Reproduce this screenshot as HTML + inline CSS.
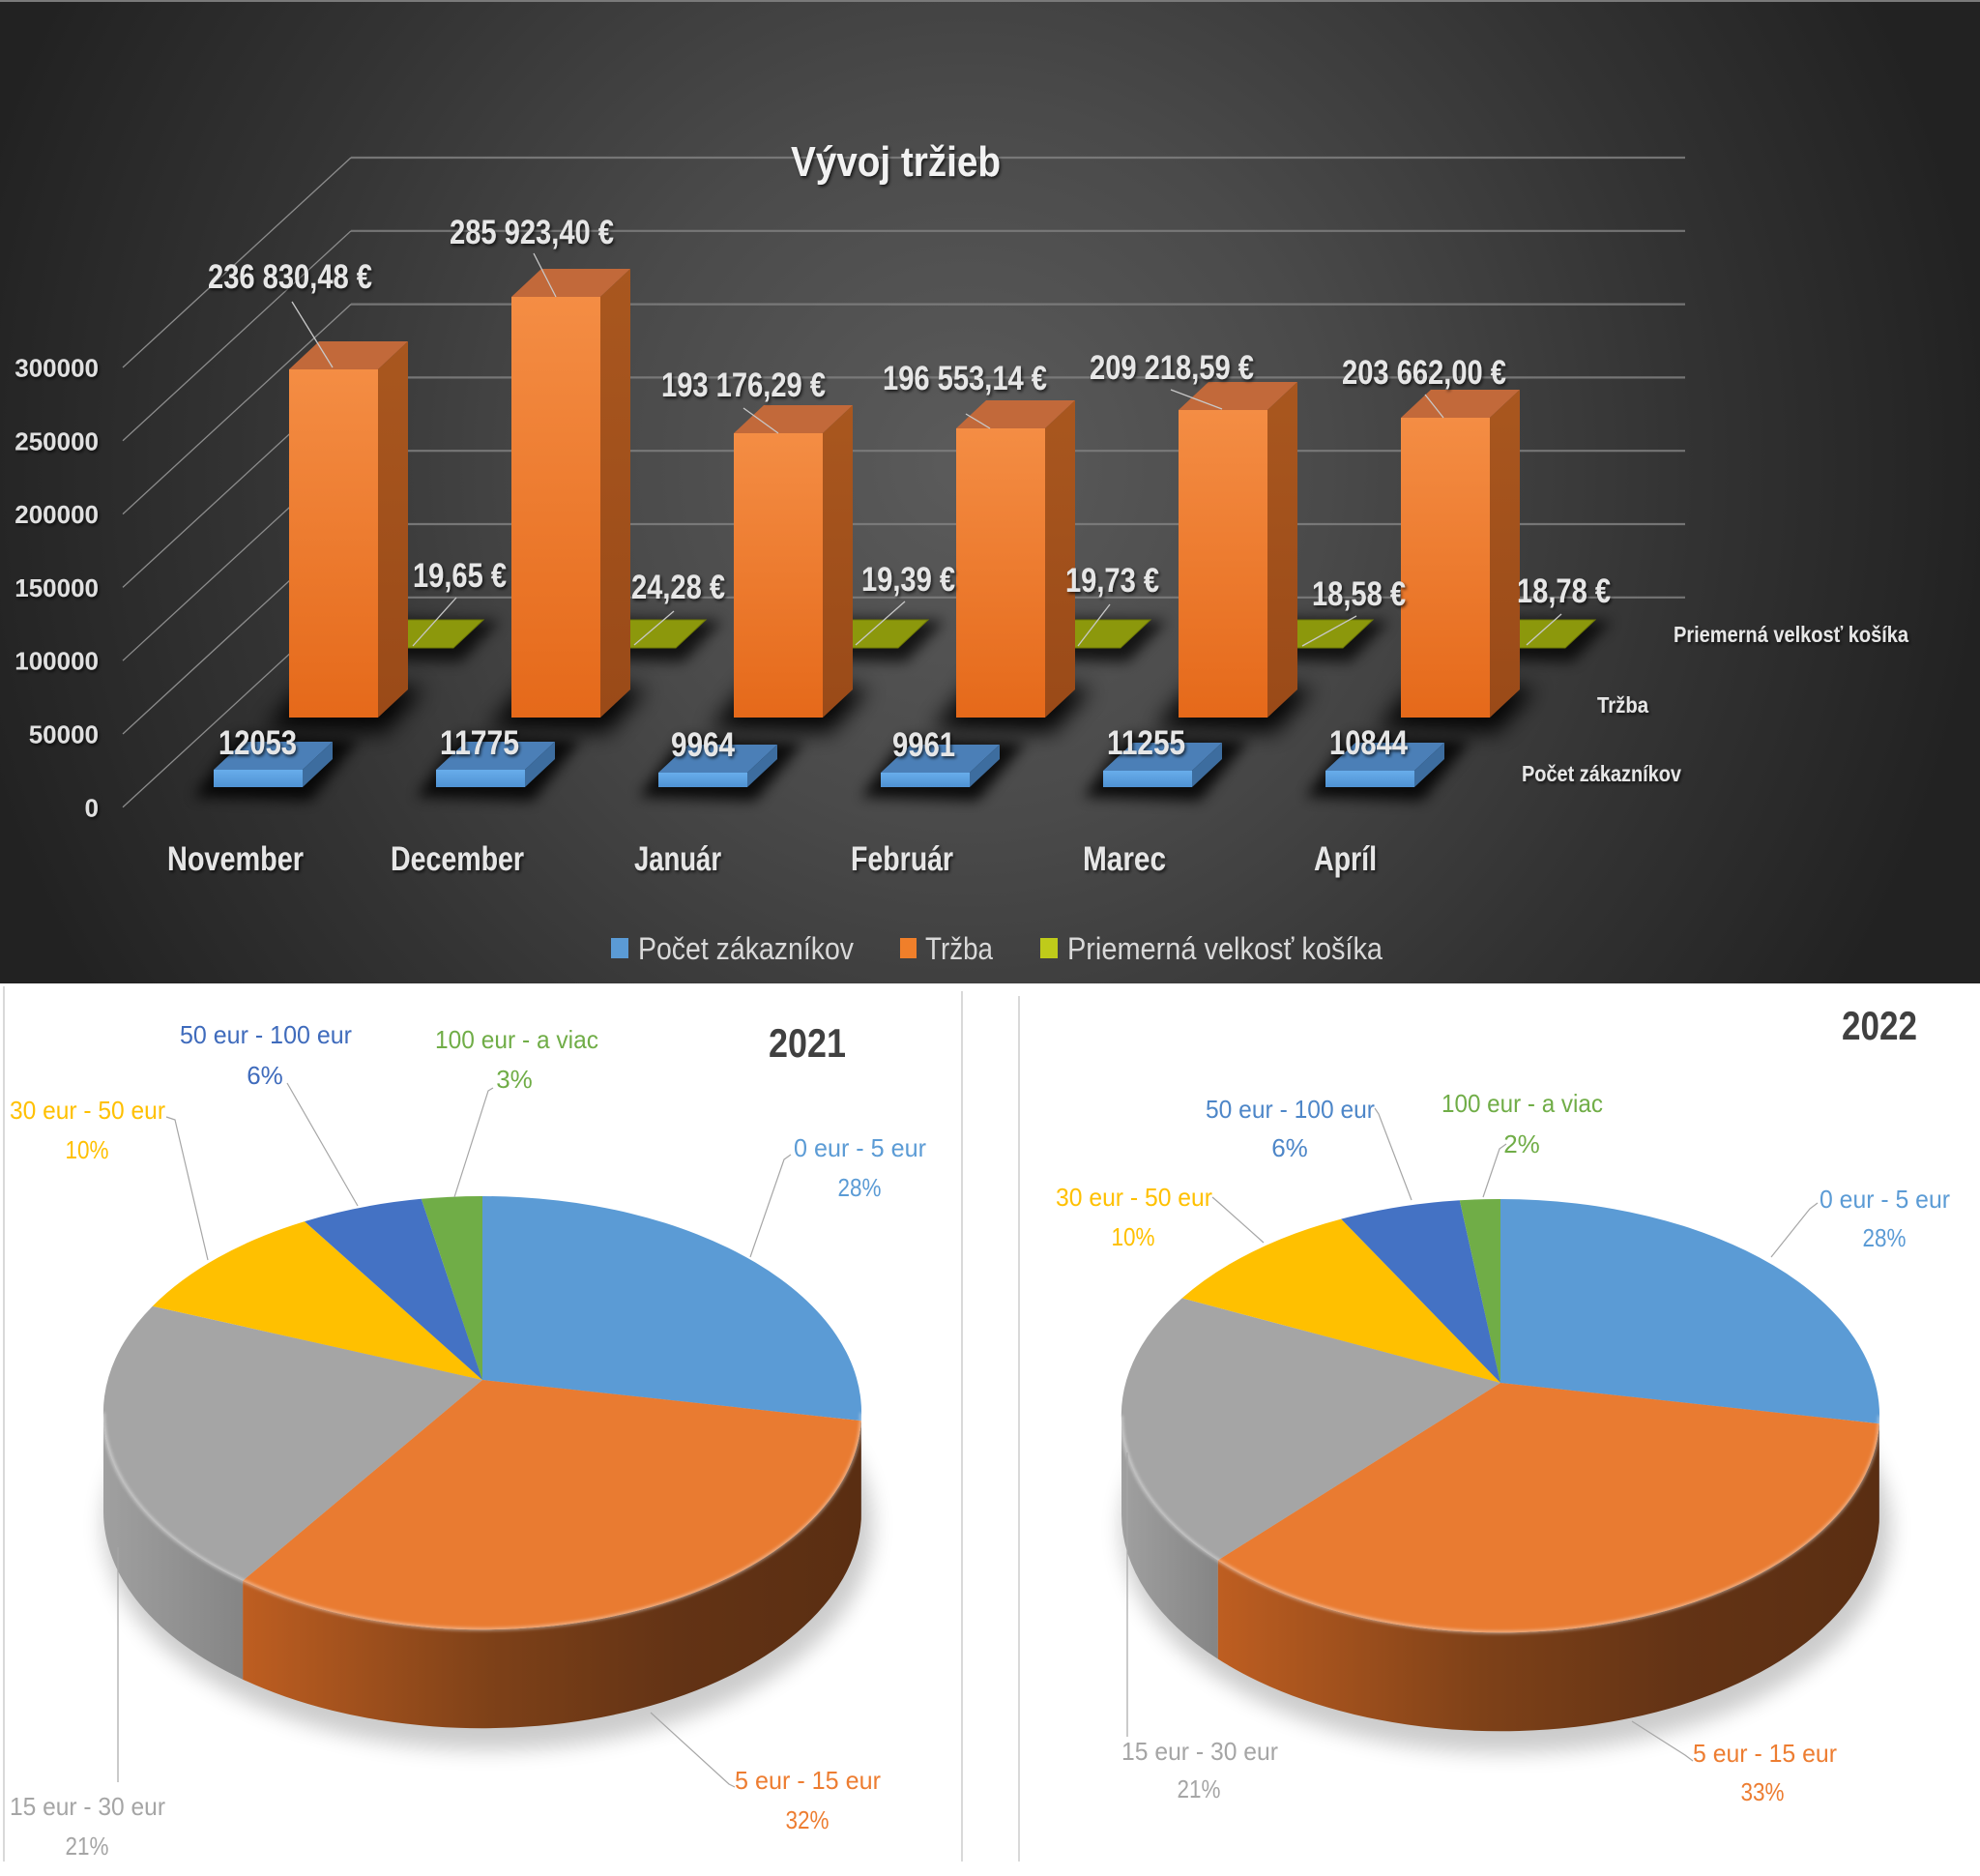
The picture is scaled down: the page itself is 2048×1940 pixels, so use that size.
<!DOCTYPE html>
<html><head><meta charset="utf-8"><style>
html,body{margin:0;padding:0;background:#fff;}
svg{display:block;}
text{font-family:"Liberation Sans",Arial,sans-serif;}
</style></head><body>
<svg width="2048" height="1940" viewBox="0 0 2048 1940" xmlns="http://www.w3.org/2000/svg">
<defs>
<radialGradient id="bg" gradientUnits="userSpaceOnUse" cx="1000" cy="480" r="1060">
<stop offset="0" stop-color="#5b5b5b"/><stop offset="0.35" stop-color="#4a4a4a"/><stop offset="0.7" stop-color="#333"/><stop offset="1" stop-color="#222"/>
</radialGradient>
<linearGradient id="oF" x1="0" y1="0" x2="0" y2="1"><stop offset="0" stop-color="#F48D44"/><stop offset="1" stop-color="#E5691A"/></linearGradient>
<linearGradient id="oS" x1="0" y1="0" x2="0" y2="1"><stop offset="0" stop-color="#A9571F"/><stop offset="1" stop-color="#9A4A18"/></linearGradient>
<linearGradient id="bF" x1="0" y1="0" x2="0" y2="1"><stop offset="0" stop-color="#68ADEB"/><stop offset="1" stop-color="#4F92D3"/></linearGradient>
<linearGradient id="pO" x1="0" y1="0" x2="1" y2="0"><stop offset="0" stop-color="#BE5E21"/><stop offset="0.4" stop-color="#7E4118"/><stop offset="0.7" stop-color="#633315"/><stop offset="1" stop-color="#5A2E12"/></linearGradient>
<linearGradient id="pG" x1="0" y1="0" x2="1" y2="0"><stop offset="0" stop-color="#A0A0A0"/><stop offset="1" stop-color="#858585"/></linearGradient>
<filter id="b12" x="-50%" y="-50%" width="200%" height="200%"><feGaussianBlur stdDeviation="11"/></filter>
<filter id="b8" x="-50%" y="-50%" width="200%" height="200%"><feGaussianBlur stdDeviation="7"/></filter>
<filter id="b2" x="-20%" y="-20%" width="140%" height="140%"><feGaussianBlur stdDeviation="1.5"/></filter>
<filter id="ts" x="-10%" y="-30%" width="120%" height="160%"><feDropShadow dx="1.5" dy="2" stdDeviation="1.5" flood-color="#000" flood-opacity="0.7"/></filter>
</defs>

<!-- top chart background -->
<rect x="0" y="0" width="2048" height="1017" fill="url(#bg)"/>
<rect x="0" y="0" width="2048" height="2" fill="#7a7a7a"/>

<!-- gridlines -->
<g stroke="#808080" stroke-width="2.2" opacity="0.85">
<line x1="363" y1="163" x2="1743" y2="163"/>
<line x1="363" y1="238.8" x2="1743" y2="238.8"/>
<line x1="363" y1="314.6" x2="1743" y2="314.6"/>
<line x1="363" y1="390.4" x2="1743" y2="390.4"/>
<line x1="363" y1="466.2" x2="1743" y2="466.2"/>
<line x1="363" y1="542" x2="1743" y2="542"/>
<line x1="363" y1="617.8" x2="1743" y2="617.8"/>
</g>
<g stroke="#8c8c8c" stroke-width="1.3">
<line x1="127" y1="380" x2="363" y2="163"/>
<line x1="127" y1="455.8" x2="363" y2="238.8"/>
<line x1="127" y1="531.6" x2="363" y2="314.6"/>
<line x1="127" y1="607.4" x2="363" y2="390.4"/>
<line x1="127" y1="683.2" x2="363" y2="466.2"/>
<line x1="127" y1="759" x2="363" y2="542"/>
<line x1="127" y1="834.8" x2="363" y2="617.8"/>
</g>

<!-- green row shadows & bars -->
<g fill="#000" opacity="0.75" filter="url(#b8)">
<polygon points="367,682 477,684 517,642 402,640"/>
<polygon points="597,682 707,684 747,642 632,640"/>
<polygon points="827,682 937,684 977,642 862,640"/>
<polygon points="1057,682 1167,684 1207,642 1092,640"/>
<polygon points="1287,682 1397,684 1437,642 1322,640"/>
<polygon points="1517,682 1627,684 1667,642 1552,640"/>
</g>
<g fill="#8C980C" stroke="#6e7806" stroke-width="1">
<polygon points="377,670 469,670 500,641 408,641"/>
<polygon points="607,670 699,670 730,641 638,641"/>
<polygon points="837,670 929,670 960,641 868,641"/>
<polygon points="1067,670 1159,670 1190,641 1098,641"/>
<polygon points="1297,670 1389,670 1420,641 1328,641"/>
<polygon points="1527,670 1619,670 1650,641 1558,641"/>
</g>

<!-- orange shadows -->
<g fill="#000" opacity="0.9" filter="url(#b12)">
<polygon points="274,754 399,758 439,712 319,700"/>
<polygon points="504,754 629,758 669,712 549,700"/>
<polygon points="734,754 859,758 899,712 779,700"/>
<polygon points="964,754 1089,758 1129,712 1009,700"/>
<polygon points="1194,754 1319,758 1359,712 1239,700"/>
<polygon points="1424,754 1549,758 1589,712 1469,700"/>
</g>
<!-- orange bars -->
<g>
<rect x="299" y="382" width="92" height="360" fill="url(#oF)"/><polygon points="299,382 391,382 422,353 330,353" fill="#C2693A"/><polygon points="391,382 422,353 422,713 391,742" fill="url(#oS)"/>
<rect x="529" y="307" width="92" height="435" fill="url(#oF)"/><polygon points="529,307 621,307 652,278 560,278" fill="#C2693A"/><polygon points="621,307 652,278 652,713 621,742" fill="url(#oS)"/>
<rect x="759" y="448" width="92" height="294" fill="url(#oF)"/><polygon points="759,448 851,448 882,419 790,419" fill="#C2693A"/><polygon points="851,448 882,419 882,713 851,742" fill="url(#oS)"/>
<rect x="989" y="443" width="92" height="299" fill="url(#oF)"/><polygon points="989,443 1081,443 1112,414 1020,414" fill="#C2693A"/><polygon points="1081,443 1112,414 1112,713 1081,742" fill="url(#oS)"/>
<rect x="1219" y="424" width="92" height="318" fill="url(#oF)"/><polygon points="1219,424 1311,424 1342,395 1250,395" fill="#C2693A"/><polygon points="1311,424 1342,395 1342,713 1311,742" fill="url(#oS)"/>
<rect x="1449" y="432" width="92" height="310" fill="url(#oF)"/><polygon points="1449,432 1541,432 1572,403 1480,403" fill="#C2693A"/><polygon points="1541,432 1572,403 1572,713 1541,742" fill="url(#oS)"/>
</g>

<!-- blue shadows -->
<g fill="#000" opacity="0.85" filter="url(#b8)">
<polygon points="201,824 321,828 371,765 246,760"/>
<polygon points="431,824 551,828 601,765 476,760"/>
<polygon points="661,824 781,828 831,768 706,763"/>
<polygon points="891,824 1011,828 1061,768 936,763"/>
<polygon points="1121,824 1241,828 1291,766 1166,761"/>
<polygon points="1351,824 1471,828 1521,766 1396,761"/>
</g>
<!-- blue bars -->
<g>
<rect x="221" y="796" width="92" height="18" fill="url(#bF)"/><polygon points="221,796 313,796 344,767 252,767" fill="#4B7FB7"/><polygon points="313,796 344,767 344,785 313,814" fill="#3D6D9F"/>
<rect x="451" y="796" width="92" height="18" fill="url(#bF)"/><polygon points="451,796 543,796 574,767 482,767" fill="#4B7FB7"/><polygon points="543,796 574,767 574,785 543,814" fill="#3D6D9F"/>
<rect x="681" y="799" width="92" height="15" fill="url(#bF)"/><polygon points="681,799 773,799 804,770 712,770" fill="#4B7FB7"/><polygon points="773,799 804,770 804,785 773,814" fill="#3D6D9F"/>
<rect x="911" y="799" width="92" height="15" fill="url(#bF)"/><polygon points="911,799 1003,799 1034,770 942,770" fill="#4B7FB7"/><polygon points="1003,799 1034,770 1034,785 1003,814" fill="#3D6D9F"/>
<rect x="1141" y="797" width="92" height="17" fill="url(#bF)"/><polygon points="1141,797 1233,797 1264,768 1172,768" fill="#4B7FB7"/><polygon points="1233,797 1264,768 1264,785 1233,814" fill="#3D6D9F"/>
<rect x="1371" y="797" width="92" height="17" fill="url(#bF)"/><polygon points="1371,797 1463,797 1494,768 1402,768" fill="#4B7FB7"/><polygon points="1463,797 1494,768 1494,785 1463,814" fill="#3D6D9F"/>
</g>

<!-- leader lines in bar chart -->
<g stroke="#C8C8C8" stroke-width="1.3">
<line x1="302" y1="312" x2="344" y2="380"/>
<line x1="552" y1="262" x2="575" y2="307"/>
<line x1="769" y1="422" x2="805" y2="448"/>
<line x1="999" y1="428" x2="1024" y2="443"/>
<line x1="1211" y1="403" x2="1264" y2="423"/>
<line x1="1474" y1="408" x2="1493" y2="432"/>
<line x1="472" y1="618" x2="427" y2="668"/>
<line x1="697" y1="632" x2="656" y2="667"/>
<line x1="936" y1="622" x2="885" y2="667"/>
<line x1="1148" y1="625" x2="1115" y2="668"/>
<line x1="1403" y1="637" x2="1347" y2="668"/>
<line x1="1615" y1="635" x2="1579" y2="667"/>
</g>

<!-- text of bar chart -->
<g font-weight="bold" fill="#E6E6E6" filter="url(#ts)">
<text x="818" y="182" font-size="44" textLength="217" lengthAdjust="spacingAndGlyphs" fill="#F2F2F2">Vývoj tržieb</text>

<g font-size="26" text-anchor="end" fill="#E0E0E0">
<text x="102" y="389.5">300000</text>
<text x="102" y="465.3">250000</text>
<text x="102" y="541.1">200000</text>
<text x="102" y="616.9">150000</text>
<text x="102" y="692.7">100000</text>
<text x="102" y="768.5">50000</text>
<text x="102" y="844.3">0</text>
</g>

<g font-size="35" lengthAdjust="spacingAndGlyphs">
<text x="215" y="298" textLength="170" lengthAdjust="spacingAndGlyphs">236 830,48 €</text>
<text x="465" y="252" textLength="170" lengthAdjust="spacingAndGlyphs">285 923,40 €</text>
<text x="684" y="410" textLength="170" lengthAdjust="spacingAndGlyphs">193 176,29 €</text>
<text x="913" y="403" textLength="170" lengthAdjust="spacingAndGlyphs">196 553,14 €</text>
<text x="1127" y="392" textLength="170" lengthAdjust="spacingAndGlyphs">209 218,59 €</text>
<text x="1388" y="397" textLength="170" lengthAdjust="spacingAndGlyphs">203 662,00 €</text>

<text x="427" y="607" textLength="97" lengthAdjust="spacingAndGlyphs">19,65 €</text>
<text x="653" y="619" textLength="97" lengthAdjust="spacingAndGlyphs">24,28 €</text>
<text x="891" y="611" textLength="97" lengthAdjust="spacingAndGlyphs">19,39 €</text>
<text x="1102" y="612" textLength="97" lengthAdjust="spacingAndGlyphs">19,73 €</text>
<text x="1357" y="626" textLength="97" lengthAdjust="spacingAndGlyphs">18,58 €</text>
<text x="1569" y="623" textLength="97" lengthAdjust="spacingAndGlyphs">18,78 €</text>

<text x="226" y="780" textLength="81" lengthAdjust="spacingAndGlyphs">12053</text>
<text x="455" y="780" textLength="82" lengthAdjust="spacingAndGlyphs">11775</text>
<text x="694" y="782" textLength="66" lengthAdjust="spacingAndGlyphs">9964</text>
<text x="923" y="782" textLength="65" lengthAdjust="spacingAndGlyphs">9961</text>
<text x="1145" y="780" textLength="81" lengthAdjust="spacingAndGlyphs">11255</text>
<text x="1375" y="780" textLength="81" lengthAdjust="spacingAndGlyphs">10844</text>

<text x="173" y="900" textLength="141" lengthAdjust="spacingAndGlyphs">November</text>
<text x="404" y="900" textLength="138" lengthAdjust="spacingAndGlyphs">December</text>
<text x="656" y="900" textLength="90" lengthAdjust="spacingAndGlyphs">Január</text>
<text x="880" y="900" textLength="106" lengthAdjust="spacingAndGlyphs">Február</text>
<text x="1120" y="900" textLength="86" lengthAdjust="spacingAndGlyphs">Marec</text>
<text x="1359" y="900" textLength="65" lengthAdjust="spacingAndGlyphs">Apríl</text>
</g>

<g font-size="23">
<text x="1731" y="664" textLength="243" lengthAdjust="spacingAndGlyphs">Priemerná velkosť košíka</text>
<text x="1652" y="737" textLength="53" lengthAdjust="spacingAndGlyphs">Tržba</text>
<text x="1574" y="808" textLength="165" lengthAdjust="spacingAndGlyphs">Počet zákazníkov</text>
</g>
</g>

<!-- legend -->
<rect x="632" y="970" width="18" height="21" fill="#5B9BD5"/>
<rect x="931" y="970" width="17" height="21" fill="#F07F2A"/>
<rect x="1076" y="970" width="18" height="21" fill="#BFCB1A"/>
<g font-size="32" fill="#D9D9D9">
<text x="660" y="992" textLength="223" lengthAdjust="spacingAndGlyphs">Počet zákazníkov</text>
<text x="957" y="992" textLength="70" lengthAdjust="spacingAndGlyphs">Tržba</text>
<text x="1104" y="992" textLength="326" lengthAdjust="spacingAndGlyphs">Priemerná velkosť košíka</text>
</g>

<!-- bottom area dividers -->
<g stroke="#D9D9D9" stroke-width="2">
<line x1="4" y1="1020" x2="4" y2="1925"/>
<line x1="995" y1="1025" x2="995" y2="1925"/>
<line x1="1054" y1="1030" x2="1054" y2="1925"/>
</g>

<!-- ===== PIE 2021 ===== -->
<ellipse cx="505" cy="1578" rx="398" ry="232" fill="#000" opacity="0.2" filter="url(#b12)"/>
<path d="M 891 1461 A 392 224 0 0 1 890.8 1469.2 L 890.8 1571.2 A 392 224 0 0 0 891 1563 Z" fill="#3B6EA5"/>
<path d="M 890.8 1469.2 A 392 224 0 0 1 251.1 1634.7 L 251.1 1736.7 A 392 224 0 0 0 890.8 1571.2 Z" fill="url(#pO)"/>
<path d="M 251.1 1634.7 A 392 224 0 0 1 107 1461 L 107 1563 A 392 224 0 0 0 251.1 1736.7 Z" fill="url(#pG)"/>
<path d="M 499 1427 L 499 1237 A 392 224 0 0 1 890.8 1469.2 Z" fill="#5B9BD5"/>
<path d="M 499 1427 L 890.8 1469.2 A 392 224 0 0 1 251.1 1634.7 Z" fill="#E97B31"/>
<path d="M 499 1427 L 251.1 1634.7 A 392 224 0 0 1 157.8 1350.7 Z" fill="#A5A5A5"/>
<path d="M 499 1427 L 157.8 1350.7 A 392 224 0 0 1 315 1263.1 Z" fill="#FFC000"/>
<path d="M 499 1427 L 315 1263.1 A 392 224 0 0 1 435.8 1239.8 Z" fill="#4472C4"/>
<path d="M 499 1427 L 435.8 1239.8 A 392 224 0 0 1 499 1237 Z" fill="#70AD47"/>
<path d="M 107 1461 A 392 224 0 0 0 891 1461" fill="none" stroke="#fff" stroke-opacity="0.45" stroke-width="3" filter="url(#b2)"/>

<g stroke="#A6A6A6" stroke-width="1.2" fill="none">
<polyline points="297,1120 370,1247"/>
<polyline points="510,1125 505,1128 470,1238"/>
<polyline points="172,1155 181,1158 215,1303"/>
<polyline points="818,1194 811,1199 776,1300"/>
<polyline points="760,1848 754,1845 673,1771"/>
<polyline points="122,1600 122,1843"/>
</g>
<g font-size="26">
<text x="795" y="1093" font-size="42" font-weight="bold" fill="#404040" textLength="80" lengthAdjust="spacingAndGlyphs">2021</text>
<text x="186" y="1079" fill="#3F6BBC" textLength="178" lengthAdjust="spacingAndGlyphs">50 eur - 100 eur</text>
<text x="274" y="1121" fill="#3F6BBC" text-anchor="middle">6%</text>
<text x="450" y="1084" fill="#70AD47" textLength="169" lengthAdjust="spacingAndGlyphs">100 eur - a viac</text>
<text x="532" y="1125" fill="#70AD47" text-anchor="middle">3%</text>
<text x="10" y="1157" fill="#FFC000" textLength="161" lengthAdjust="spacingAndGlyphs">30 eur - 50 eur</text>
<text x="90" y="1198" fill="#FFC000" text-anchor="middle" textLength="45" lengthAdjust="spacingAndGlyphs">10%</text>
<text x="821" y="1196" fill="#5B9BD5" textLength="137" lengthAdjust="spacingAndGlyphs">0 eur - 5 eur</text>
<text x="889" y="1237" fill="#5B9BD5" text-anchor="middle" textLength="45" lengthAdjust="spacingAndGlyphs">28%</text>
<text x="760" y="1850" fill="#ED7D31" textLength="151" lengthAdjust="spacingAndGlyphs">5 eur - 15 eur</text>
<text x="835" y="1891" fill="#ED7D31" text-anchor="middle" textLength="45" lengthAdjust="spacingAndGlyphs">32%</text>
<text x="10" y="1877" fill="#A5A5A5" textLength="161" lengthAdjust="spacingAndGlyphs">15 eur - 30 eur</text>
<text x="90" y="1918" fill="#A5A5A5" text-anchor="middle" textLength="45" lengthAdjust="spacingAndGlyphs">21%</text>
</g>

<!-- ===== PIE 2022 ===== -->
<ellipse cx="1558" cy="1581" rx="398" ry="232" fill="#000" opacity="0.2" filter="url(#b12)"/>
<path d="M 1944 1464 A 392 224 0 0 1 1943.8 1472.2 L 1943.8 1574.2 A 392 224 0 0 0 1944 1566 Z" fill="#3B6EA5"/>
<path d="M 1943.8 1472.2 A 392 224 0 0 1 1259.7 1613.5 L 1259.7 1715.5 A 392 224 0 0 0 1943.8 1574.2 Z" fill="url(#pO)"/>
<path d="M 1259.7 1613.5 A 392 224 0 0 1 1160 1464 L 1160 1566 A 392 224 0 0 0 1259.7 1715.5 Z" fill="url(#pG)"/>
<path d="M 1552 1430 L 1552 1240 A 392 224 0 0 1 1943.8 1472.2 Z" fill="#5B9BD5"/>
<path d="M 1552 1430 L 1943.8 1472.2 A 392 224 0 0 1 1259.7 1613.5 Z" fill="#E97B31"/>
<path d="M 1552 1430 L 1259.7 1613.5 A 392 224 0 0 1 1222.7 1342.4 Z" fill="#A5A5A5"/>
<path d="M 1552 1430 L 1222.7 1342.4 A 392 224 0 0 1 1387.2 1260.6 Z" fill="#FFC000"/>
<path d="M 1552 1430 L 1387.2 1260.6 A 392 224 0 0 1 1509.8 1241.2 Z" fill="#4472C4"/>
<path d="M 1552 1430 L 1509.8 1241.2 A 392 224 0 0 1 1552 1240 Z" fill="#70AD47"/>
<path d="M 1160 1464 A 392 224 0 0 0 1944 1464" fill="none" stroke="#fff" stroke-opacity="0.45" stroke-width="3" filter="url(#b2)"/>

<g stroke="#A6A6A6" stroke-width="1.2" fill="none">
<polyline points="1422,1146 1426,1152 1460,1241"/>
<polyline points="1558,1183 1551,1188 1534,1238"/>
<polyline points="1254,1238 1261,1244 1307,1285"/>
<polyline points="1880,1244 1872,1250 1832,1300"/>
<polyline points="1751,1821 1743,1815 1688,1780"/>
<polyline points="1166,1502 1166,1796"/>
</g>
<g font-size="26">
<text x="1905" y="1075" font-size="42" font-weight="bold" fill="#404040" textLength="78" lengthAdjust="spacingAndGlyphs">2022</text>
<text x="1247" y="1156" fill="#4D86C8" textLength="175" lengthAdjust="spacingAndGlyphs">50 eur - 100 eur</text>
<text x="1334" y="1196" fill="#4D86C8" text-anchor="middle">6%</text>
<text x="1491" y="1150" fill="#70AD47" textLength="167" lengthAdjust="spacingAndGlyphs">100 eur - a viac</text>
<text x="1574" y="1192" fill="#70AD47" text-anchor="middle">2%</text>
<text x="1092" y="1247" fill="#FFC000" textLength="162" lengthAdjust="spacingAndGlyphs">30 eur - 50 eur</text>
<text x="1172" y="1288" fill="#FFC000" text-anchor="middle" textLength="45" lengthAdjust="spacingAndGlyphs">10%</text>
<text x="1882" y="1249" fill="#5B9BD5" textLength="135" lengthAdjust="spacingAndGlyphs">0 eur - 5 eur</text>
<text x="1949" y="1289" fill="#5B9BD5" text-anchor="middle" textLength="45" lengthAdjust="spacingAndGlyphs">28%</text>
<text x="1751" y="1822" fill="#ED7D31" textLength="149" lengthAdjust="spacingAndGlyphs">5 eur - 15 eur</text>
<text x="1823" y="1862" fill="#ED7D31" text-anchor="middle" textLength="45" lengthAdjust="spacingAndGlyphs">33%</text>
<text x="1160" y="1820" fill="#A5A5A5" textLength="162" lengthAdjust="spacingAndGlyphs">15 eur - 30 eur</text>
<text x="1240" y="1859" fill="#A5A5A5" text-anchor="middle" textLength="45" lengthAdjust="spacingAndGlyphs">21%</text>
</g>
</svg>
</body></html>
